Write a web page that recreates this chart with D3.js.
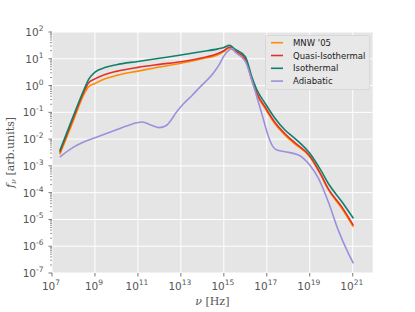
<!DOCTYPE html>
<html>
<head>
<meta charset="utf-8">
<script src="https://cdn.jsdelivr.net/npm/d3@7"></script>
<style>
  body { margin: 0; background: #fff; }
  text { font-family: "DejaVu Sans", sans-serif; }
</style>
</head>
<body>
<div id="chart"></div>
<script>
// frequency grid shared by the three close curves, in Hz
var nuGrid = [2.3e7, 1e8, 3.2e8, 5e8, 1e9, 3.2e9, 1e10, 1e11, 1e12, 1e13, 1e14,
    5.4e14, 1e15, 1.8e15, 3.3e15, 1e16, 2e16, 3.5e16, 8.3e16, 2.4e17, 7e17,
    2e18, 1e19, 3.2e19, 7.2e19, 3.2e20, 1.07e21]
// log10 of f_nu
var logMNW = [-2.57, -1.3, -0.3, -0.05, 0.08, 0.26, 0.38, 0.54, 0.69, 0.83, 1.0,
    1.15, 1.27, 1.4, 1.28, 0.97, 0.2, -0.35, -0.85, -1.43, -1.85,
    -2.18, -2.66, -3.33, -3.88, -4.6, -5.28]
var logQuasi = [-2.5, -1.2, -0.2, 0.1, 0.25, 0.42, 0.53, 0.68, 0.79, 0.89, 1.04,
    1.2, 1.3, 1.43, 1.3, 1.0, 0.25, -0.3, -0.8, -1.38, -1.8,
    -2.13, -2.63, -3.3, -3.85, -4.55, -5.22]
var logIso = [-2.44, -1.12, -0.12, 0.22, 0.5, 0.68, 0.78, 0.9, 1.02, 1.14, 1.27,
    1.37, 1.42, 1.5, 1.36, 1.08, 0.33, -0.17, -0.66, -1.22, -1.66,
    -1.97, -2.53, -3.15, -3.65, -4.35, -4.96]
// adiabatic curve has its own grid
var nuAdiab = [2.3e7, 1e8, 3.2e8, 1e9, 1e10, 3.2e10, 1e11, 1.6e11, 4e11, 1e12,
    2e12, 4e12, 5.6e12, 1.26e13, 3.2e13, 7.9e13, 3.2e14, 6.3e14, 1e15, 1.8e15, 2.5e15,
    3.3e15, 1e16, 2e16, 3.4e16, 5.8e16, 1.2e17, 2e17, 3.2e17, 7e17, 3e18,
    1e19, 2.5e19, 7.2e19, 2.1e20, 6.2e20, 1.07e21]
var logAdiab = [-2.67, -2.3, -2.1, -1.95, -1.65, -1.5, -1.38, -1.36, -1.47, -1.57,
    -1.5, -1.22, -1.04, -0.7, -0.38, -0.05, 0.46, 0.8, 1.1, 1.33, 1.38,
    1.26, 0.9, 0.21, -0.41, -1.04, -1.91, -2.3, -2.42, -2.47, -2.59,
    -2.97, -3.46, -4.33, -5.39, -6.26, -6.64]

var seriesNames = ["MNW '05", "Quasi-Isothermal", "Isothermal", "Adiabatic"]
var seriesColors = ["#ff8c00", "#e3302b", "#13806c", "#9c90dc"]
var xTickExp = [7, 9, 11, 13, 15, 17, 19, 21]
var yTickExp = [-7, -6, -5, -4, -3, -2, -1, 0, 1, 2]

drawChart()

function drawChart(){
    var width = 415, height = 312
    var pl = 52, pr = 372.7, pt = 32, pb = 273

    var svg = d3.select("#chart").append("svg")
        .attr("width", width)
        .attr("height", height)

    var x = d3.scaleLog().domain([1e7, Math.pow(10, 21.93)]).range([pl, pr])
    var y = d3.scaleLog().domain([1e-7, 1e2]).range([pb, pt])

    svg.append("rect")
        .attr("x", pl).attr("y", pt)
        .attr("width", pr - pl).attr("height", pb - pt)
        .attr("fill", "#e5e5e5")

    // grid
    svg.append("g").selectAll("line")
        .data(xTickExp).enter().append("line")
        .attr("x1", function(d) { return x(Math.pow(10, d)) })
        .attr("x2", function(d) { return x(Math.pow(10, d)) })
        .attr("y1", pt).attr("y2", pb)
        .attr("stroke", "#fff").attr("stroke-width", 1)
    svg.append("g").selectAll("line")
        .data(yTickExp).enter().append("line")
        .attr("y1", function(d) { return y(Math.pow(10, d)) })
        .attr("y2", function(d) { return y(Math.pow(10, d)) })
        .attr("x1", pl).attr("x2", pr)
        .attr("stroke", "#fff").attr("stroke-width", 1)

    // ticks
    var yMinor = []
    yTickExp.forEach(function(e) {
        if (e < 2) for (var m = 2; m < 10; m++) yMinor.push(m * Math.pow(10, e))
    })
    svg.append("g").selectAll("line")
        .data(yMinor).enter().append("line")
        .attr("x1", pl - 2).attr("x2", pl)
        .attr("y1", function(d) { return y(d) }).attr("y2", function(d) { return y(d) })
        .attr("stroke", "#555").attr("stroke-width", 0.6)
    svg.append("g").selectAll("line")
        .data(yTickExp).enter().append("line")
        .attr("x1", pl - 3.5).attr("x2", pl)
        .attr("y1", function(d) { return y(Math.pow(10, d)) })
        .attr("y2", function(d) { return y(Math.pow(10, d)) })
        .attr("stroke", "#555").attr("stroke-width", 0.8)
    svg.append("g").selectAll("line")
        .data(xTickExp).enter().append("line")
        .attr("x1", function(d) { return x(Math.pow(10, d)) })
        .attr("x2", function(d) { return x(Math.pow(10, d)) })
        .attr("y1", pb).attr("y2", pb + 3.5)
        .attr("stroke", "#555").attr("stroke-width", 0.8)

    // tick labels
    var xl = svg.append("g").selectAll("text")
        .data(xTickExp).enter().append("text")
        .attr("x", function(d) { return x(Math.pow(10, d)) - 1 })
        .attr("y", 290)
        .attr("text-anchor", "middle")
        .attr("fill", "#555")
        .style("font-size", "10.5px")
    xl.append("tspan").text("10")
    xl.append("tspan").attr("dy", -5).style("font-size", "7.5px").text(function(d) { return d })

    var yl = svg.append("g").selectAll("text")
        .data(yTickExp).enter().append("text")
        .attr("x", 43.5)
        .attr("y", function(d) { return y(Math.pow(10, d)) + 4 })
        .attr("text-anchor", "end")
        .attr("fill", "#555")
        .style("font-size", "10.5px")
    yl.append("tspan").text("10")
    yl.append("tspan").attr("dy", -5).style("font-size", "7.5px")
        .text(function(d) { return d < 0 ? "-" + (-d) : d })

    // axis labels
    svg.append("text")
        .attr("x", (pl + pr) / 2).attr("y", 305)
        .attr("text-anchor", "middle")
        .attr("fill", "#555")
        .style("font-family", "'DejaVu Serif', serif")
        .style("font-size", "11px")
        .html('<tspan font-style="italic">ν</tspan> [Hz]')
    svg.append("text")
        .attr("transform", "translate(14," + ((pt + pb) / 2) + ") rotate(-90)")
        .attr("text-anchor", "middle")
        .attr("fill", "#555")
        .style("font-family", "'DejaVu Serif', serif")
        .style("font-size", "11px")
        .html('<tspan font-style="italic">f</tspan><tspan font-style="italic" dy="2" font-size="8px">ν</tspan><tspan dy="-2"> [arb.units]</tspan>')

    // curves
    var line = d3.line()
        .x(function(d) { return x(d[0]) })
        .y(function(d) { return y(Math.pow(10, d[1])) })
        .curve(d3.curveMonotoneX)

    var series = [
        d3.zip(nuGrid, logMNW),
        d3.zip(nuGrid, logQuasi),
        d3.zip(nuGrid, logIso),
        d3.zip(nuAdiab, logAdiab)
    ]
    svg.append("g").selectAll("path")
        .data(series).enter().append("path")
        .attr("d", line)
        .attr("fill", "none")
        .attr("stroke", function(d, i) { return seriesColors[i] })
        .attr("stroke-width", 1.6)

    // legend
    var lg = svg.append("g")
    lg.append("rect")
        .attr("x", 265.5).attr("y", 35.5).attr("width", 104).attr("height", 54)
        .attr("rx", 2)
        .attr("fill", "#e8e8e8").attr("stroke", "#d4d4d4").attr("stroke-width", 0.8)
    var items = lg.selectAll("g.item")
        .data(seriesNames).enter().append("g")
        .attr("transform", function(d, i) { return "translate(0," + (42.7 + i * 12.8) + ")" })
    items.append("line")
        .attr("x1", 271).attr("x2", 283)
        .attr("stroke", function(d, i) { return seriesColors[i] })
        .attr("stroke-width", 1.6)
    items.append("text")
        .attr("x", 293).attr("y", 3)
        .attr("fill", "#222")
        .style("font-size", "8.5px")
        .text(function(d) { return d })
}
</script>
</body>
</html>
